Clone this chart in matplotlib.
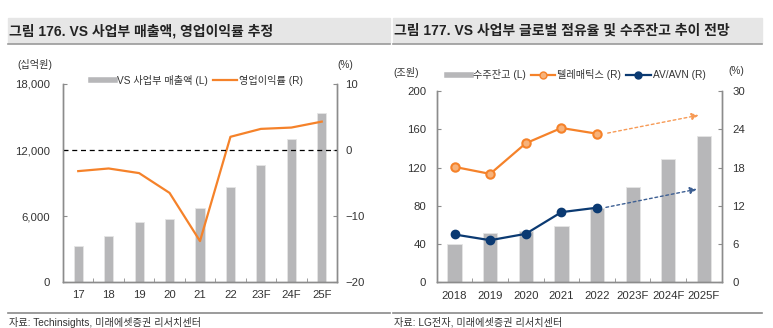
import matplotlib
matplotlib.use("Agg")
import matplotlib.pyplot as plt
from matplotlib.patches import Rectangle
from matplotlib.lines import Line2D

plt.rcParams['font.family'] = ['Liberation Sans', 'Noto Sans CJK KR', 'DejaVu Sans']

# left chart: VS sales / operating margin
years_l = ["17", "18", "19", "20", "21", "22", "23F", "24F", "25F"]
sales = [3270, 4210, 5450, 5730, 6700, 8610, 10600, 12970, 15340]
op_margin = [-3.2, -2.8, -3.5, -6.5, -13.8, 2.0, 3.2, 3.4, 4.3]

# right chart: backlog / market share
years_r = ["2018", "2019", "2020", "2021", "2022", "2023F", "2024F", "2025F"]
backlog = [40, 52, 54, 59, 78, 100, 129, 153]
telematics = [18.1, 17.0, 21.8, 24.2, 23.3]
av_avn = [7.5, 6.6, 7.6, 11.0, 11.7]
# projected arrow end points (x position, value)
tele_proj = (6.85, 26.2)
av_proj = (6.8, 14.6)

W, H = 773, 328
fig = plt.figure(figsize=(W / 100, H / 100), dpi=100)

GRAY_BAR = "#b7b7b9"
ORANGE = "#f5822a"
NAVY = "#0b3a72"
TXT = "#333333"
SPINE = "#8c8c8c"


def px(x0, y0, x1, y1):
    return [x0 / W, 1 - y1 / H, (x1 - x0) / W, (y1 - y0) / H]


def frame(x0, x1, title, source):
    fig.patches.append(Rectangle((x0 / W, 1 - 43 / H), (x1 - x0) / W, 25 / H,
                                 transform=fig.transFigure, color="#e6e6e6", zorder=0))
    fig.lines.append(Line2D([x0 / W, x1 / W], [1 - 43.5 / H] * 2, transform=fig.transFigure,
                            color="#9a9a9a", lw=1.2))
    fig.text((x0 + 1) / W, 1 - 31 / H, title, fontsize=10.0, fontweight="bold",
             color="#222222", va="center")
    fig.lines.append(Line2D([x0 / W, x1 / W], [1 - 313 / H] * 2, transform=fig.transFigure,
                            color="#8a8a8a", lw=1.2))
    fig.text((x0 + 1) / W, 1 - 322 / H, source, fontsize=7.3, color=TXT, va="center")


def style(ax, ax2, lpad, rpad):
    for a in (ax, ax2):
        a.spines["top"].set_visible(False)
        for s in ("left", "right", "bottom"):
            a.spines[s].set_color(SPINE)
            a.spines[s].set_linewidth(1.0)
        a.tick_params(direction="in", length=3, color=SPINE, labelsize=8.2, labelcolor=TXT)
    ax.tick_params(axis="y", pad=lpad)
    ax2.tick_params(axis="y", pad=rpad)
    ax.tick_params(axis="x", length=0, pad=6)


# ---- left chart ----
frame(8, 390, "그림 176. VS 사업부 매출액, 영업이익률 추정", "자료: Techinsights, 미래에셋증권 리서치센터")
ax = fig.add_axes(px(63, 84, 337, 282))
ax2 = ax.twinx()
xl = range(len(years_l))
ax.bar(xl, sales, width=0.3, color=GRAY_BAR, edgecolor="#e5e5e5", linewidth=0.6)
ax.set_xlim(-0.5, len(years_l) - 0.5)
ax.set_ylim(0, 18000)
ax.set_yticks([0, 6000, 12000, 18000])
ax.set_yticklabels(["0", "6,000", "12,000", "18,000"])
ax.set_xticks(list(xl))
ax.set_xticklabels(years_l)
ax.set_xticks([i + 0.5 for i in range(len(years_l) - 1)], minor=True)
ax.tick_params(axis="x", which="minor", direction="in", length=3, color=SPINE)
ax2.plot(xl, op_margin, color=ORANGE, lw=1.6)
ax2.axhline(0, color="black", lw=0.9, ls=(0, (4, 3)))
ax2.set_ylim(-20, 10)
ax2.set_yticks([-20, -10, 0, 10])
ax2.set_yticklabels(["\u221220", "\u221210", "0", "10"])
style(ax, ax2, 9.5, 6)
fig.text(35 / W, 1 - 65 / H, "(십억원)", fontsize=7.3, color=TXT, ha="center", va="center")
fig.text(345 / W, 1 - 65 / H, "(%)", fontsize=7.3, color=TXT, ha="center", va="center")
hl = [Line2D([], [], color=GRAY_BAR, lw=4), Line2D([], [], color=ORANGE, lw=1.6)]
fig.legend(hl, ["VS 사업부 매출액 (L)", "영업이익률 (R)"], loc="center",
           bbox_to_anchor=(197 / W, 1 - 80 / H), ncol=2, frameon=False, fontsize=7.3,
           handlelength=2.4, handletextpad=0.2, columnspacing=0.5, labelcolor=TXT)

# ---- right chart ----
frame(393, 762, "그림 177. VS 사업부 글로벌 점유율 및 수주잔고 추이 전망", "자료: LG전자, 미래에셋증권 리서치센터")
bx = fig.add_axes(px(436.7, 91, 721.7, 282.3))
bx2 = bx.twinx()
xr = range(len(years_r))
bx.bar(xr, backlog, width=0.4, color=GRAY_BAR, edgecolor="#e5e5e5", linewidth=0.6)
bx.set_xlim(-0.5, len(years_r) - 0.5)
bx.set_ylim(0, 200)
bx.set_yticks(range(0, 201, 40))
bx.set_xticks(list(xr))
bx.set_xticklabels(years_r)
bx.set_xticks([i + 0.5 for i in range(len(years_r) - 1)], minor=True)
bx.tick_params(axis="x", which="minor", direction="in", length=3, color=SPINE)
xh = range(len(telematics))
bx2.plot(xh, telematics, color=ORANGE, lw=1.6, marker="o", ms=6,
         mfc="#f7b27a", mec=ORANGE, mew=1.5)
bx2.plot(xh, av_avn, color=NAVY, lw=1.6, marker="o", ms=6, mfc=NAVY, mec=NAVY)
bx2.annotate("", xy=tele_proj, xytext=(4.3, telematics[-1] + 0.1),
             arrowprops=dict(arrowstyle="-|>", color="#f79a55", lw=1.0, ls=(0, (2, 2)),
                             mutation_scale=10, shrinkA=0, shrinkB=0))
bx2.annotate("", xy=av_proj, xytext=(4.25, av_avn[-1] + 0.05),
             arrowprops=dict(arrowstyle="-|>", color="#3d5f93", lw=1.0, ls=(0, (2, 2)),
                             mutation_scale=10, shrinkA=0, shrinkB=0))
bx2.set_ylim(0, 30)
bx2.set_yticks(range(0, 31, 6))
style(bx, bx2, 7.5, 7.5)
fig.text(406 / W, 1 - 72 / H, "(조원)", fontsize=7.3, color=TXT, ha="center", va="center")
fig.text(736 / W, 1 - 71 / H, "(%)", fontsize=7.3, color=TXT, ha="center", va="center")
hr = [Line2D([], [], color=GRAY_BAR, lw=4),
      Line2D([], [], color=ORANGE, lw=1.6, marker="o", ms=5, mfc="#f7b27a", mec=ORANGE),
      Line2D([], [], color=NAVY, lw=1.6, marker="o", ms=5, mfc=NAVY, mec=NAVY)]
fig.legend(hr, ["수주잔고 (L)", "텔레매틱스 (R)", "AV/AVN (R)"], loc="center",
           bbox_to_anchor=(576 / W, 1 - 75 / H), ncol=3, frameon=False, fontsize=7.3,
           handlelength=2.4, handletextpad=0.2, columnspacing=0.5, labelcolor=TXT)

fig.savefig("out.png", dpi=100)
